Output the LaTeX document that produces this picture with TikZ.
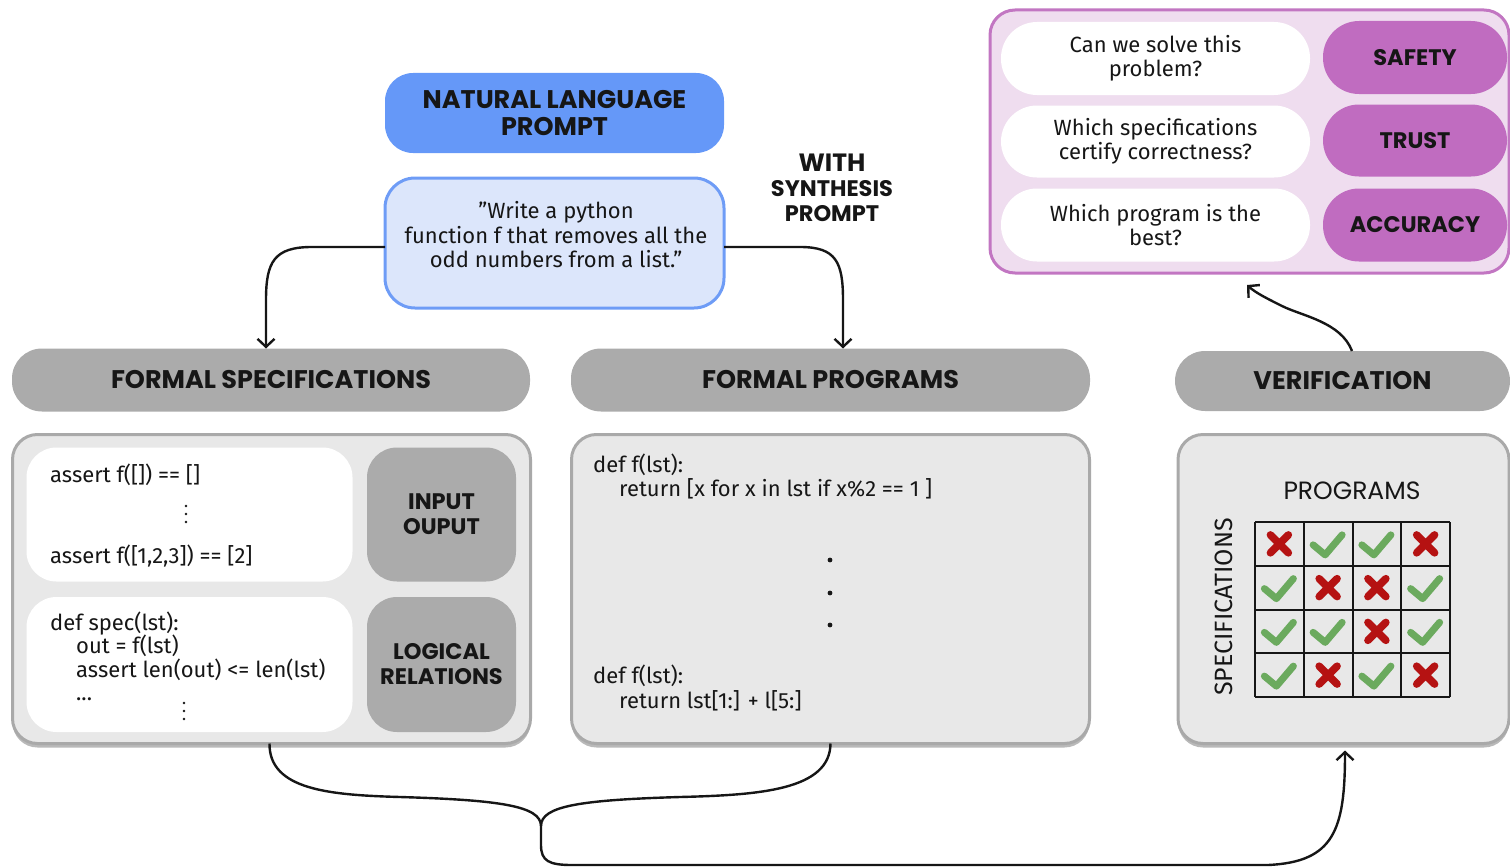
\documentclass[tikz,border=0pt]{standalone}
\usepackage{fontspec}
\setmainfont{Fira Sans}
\newfontfamily\capsfam{Poppins}
\usetikzlibrary{arrows.meta,shadows}

\definecolor{inkc}{HTML}{161616}
\definecolor{hdrgray}{HTML}{ABABAB}
\definecolor{panelgray}{HTML}{E8E8E8}
\definecolor{panelline}{HTML}{A9A9A9}
\definecolor{shadowgray}{HTML}{B9B9B9}
\definecolor{nlblue}{HTML}{6598F8}
\definecolor{promptfill}{HTML}{DCE6FB}
\definecolor{promptline}{HTML}{6E9CF6}
\definecolor{qfill}{HTML}{EFDDEF}
\definecolor{qline}{HTML}{C276C2}
\definecolor{qpill}{HTML}{C06CC0}
\definecolor{okgreen}{HTML}{6BAA5E}
\definecolor{badred}{HTML}{B51212}

\newcommand{\bodyfont}{\fontsize{22}{24.5}\selectfont}
\newcommand{\labelfont}{\capsfam\bfseries\fontsize{22.5}{25}\selectfont}
\newcommand{\headfont}{\capsfam\bfseries\fontsize{25.5}{27}\selectfont}

\tikzset{
  base/.style={rectangle, inner sep=0pt, outer sep=0pt, text=inkc},
  headbox/.style={base, fill=hdrgray, rounded corners=30pt, font=\headfont},
  panelbox/.style={base, fill=panelgray, draw=panelline, line width=3pt, rounded corners=25pt,
    drop shadow={shadow xshift=0pt, shadow yshift=-4pt, fill=shadowgray, opacity=1}},
  whitebox/.style={base, fill=white, rounded corners=30pt},
  graybox/.style={base, fill=hdrgray, rounded corners=30pt, font=\labelfont, align=center},
  qrow/.style={base, fill=white, rounded corners=36pt, font=\bodyfont, align=center,
    minimum width=309pt},
  qtag/.style={base, fill=qpill, rounded corners=36pt, font=\labelfont, minimum width=184pt},
  code/.style={inner sep=0pt, anchor=base west, font=\bodyfont, text=inkc},
  arr/.style={line width=2.4pt, draw=inkc, -{Straight Barb[length=8pt,width=17pt,line width=2.4pt]}},
  brace/.style={line width=2.4pt, draw=inkc},
  okline/.style={line width=7pt, draw=okgreen, line cap=round, line join=round},
  badline/.style={line width=7.5pt, draw=badred, line cap=round},
}

% check mark and cross centred on a cell
\newcommand{\okmark}[2]{\draw[okline] ({#1-15},{#2+1}) -- ({#1-3},{#2+11}) -- ({#1+14},{#2-9});}
\newcommand{\badmark}[2]{\draw[badline] ({#1-9},{#2-9}) -- ({#1+9},{#2+9}) ({#1-9},{#2+9}) -- ({#1+9},{#2-9});}

\begin{document}
\begin{tikzpicture}[x=1pt,y=-1pt]
\useasboundingbox (0,0) rectangle (1510,867);

% ---------- prompt ----------
\node[base, fill=nlblue, rounded corners=28pt, minimum width=339pt, minimum height=80pt,
      font=\headfont, align=center] (nlhead) at (554.5,113) {NATURAL LANGUAGE\\PROMPT};
\node[base, fill=promptfill, draw=promptline, line width=3pt, rounded corners=30pt,
      minimum width=339pt, minimum height=130pt] (prompt) at (554.5,243) {};
\node[inner sep=0pt, font=\bodyfont, align=center, text=inkc] (prompttext) at (556,235)
  {”Write a python\\function f that removes all the\\odd numbers from a list.”};
\node[inner sep=0pt, font=\labelfont, align=center, text=inkc] (withsyn) at (832,188)
  {\fontsize{25}{27.5}\selectfont WITH\\SYNTHESIS\\PROMPT};

% ---------- headers ----------
\node[headbox, minimum width=518pt, minimum height=63pt] (spechead) at (271,380) {FORMAL SPECIFICATIONS};
\node[headbox, minimum width=519pt, minimum height=63pt] (proghead) at (830.5,380) {FORMAL PROGRAMS};
\node[headbox, minimum width=335pt, minimum height=60pt] (verhead) at (1342.5,381) {VERIFICATION};

% ---------- panels ----------
\node[panelbox, minimum width=518pt, minimum height=309pt] (specpanel) at (271.5,589) {};
\node[panelbox, minimum width=518pt, minimum height=309pt] (progpanel) at (830.5,589) {};
\node[panelbox, minimum width=331pt, minimum height=309pt] (verpanel) at (1343.5,589) {};

% specifications panel content
\node[whitebox, minimum width=326pt, minimum height=134pt] (iobox) at (189.5,514.5) {};
\node[graybox, minimum width=149pt, minimum height=134pt] (iohead) at (441.5,514.5) {INPUT\\OUPUT};
\node[whitebox, minimum width=326pt, minimum height=135pt] (logbox) at (189.5,664.5) {};
\node[graybox, minimum width=149pt, minimum height=135pt] (loghead) at (441.5,664.5) {LOGICAL\\RELATIONS};

\node[code] (io1) at (50,482) {assert f([]) == []};
\node[code] (io2) at (50,563) {assert f([1,2,3]) == [2]};
\foreach \yy in {506,514,522} {\fill[inkc] (186,\yy) circle (1.4pt);}
\node[code] (lr1) at (50,630) {def spec(lst):};
\node[code] (lr2) at (76,653) {out = f(lst)};
\node[code] (lr3) at (76,677) {assert len(out) <= len(lst)};
\node[code] (lr4) at (76,700) {...};
\foreach \yy in {703,711,719} {\fill[inkc] (184,\yy) circle (1.4pt);}

% programs panel content
\node[code] (pg1) at (593,472) {def f(lst):};
\node[code] (pg2) at (619,496) {return [x for x in lst if x\%2 == 1 ]};
\foreach \yy in {560,593,625} {\fill[inkc] (830,\yy) circle (2.4pt);}
\node[code] (pg3) at (593,683) {def f(lst):};
\node[code] (pg4) at (619,708) {return lst[1:] + l[5:]};

% verification panel content
\node[inner sep=0pt, font=\capsfam\fontsize{25}{28}\selectfont, text=inkc] (progcap) at (1352,491) {PROGRAMS};
\node[inner sep=0pt, font=\fontsize{25}{28}\selectfont, text=inkc, rotate=90] (speccap) at (1224,607) {SPECIFICATIONS};
\fill[panelgray] (1255,522) rectangle (1450,697);
\foreach \i in {0,...,4} {
  \draw[line width=2pt, inkc] (1255+48.75*\i,522) -- (1255+48.75*\i,697);
  \draw[line width=2pt, inkc] (1255,522+43.75*\i) -- (1450,522+43.75*\i);
}
\foreach \c/\r in {1/0,2/0,0/1,3/1,0/2,1/2,3/2,0/3,2/3} {
  \pgfmathsetmacro\cx{1255+48.75*(\c+0.5)}
  \pgfmathsetmacro\cy{522+43.75*(\r+0.5)}
  \okmark{\cx}{\cy}
}
\foreach \c/\r in {0/0,3/0,1/1,2/1,2/2,1/3,3/3} {
  \pgfmathsetmacro\cx{1255+48.75*(\c+0.5)}
  \pgfmathsetmacro\cy{522+43.75*(\r+0.5)}
  \badmark{\cx}{\cy}
}

% ---------- questions ----------
\node[base, fill=qfill, draw=qline, line width=3pt, rounded corners=25pt,
      minimum width=519pt, minimum height=263pt] (qpanel) at (1249.5,141.5) {};
\node[qrow, minimum height=73pt] (q1) at (1155.5,58.5) {Can we solve this\\problem?};
\node[qrow, minimum height=72pt] (q2) at (1155.5,141.5) {Which specifications\\certify correctness?};
\node[qrow, minimum height=73pt] (q3) at (1155.5,225) {Which program is the\\best?};
\node[qtag, minimum height=73pt] (t1) at (1415,57.5) {SAFETY};
\node[qtag, minimum height=72pt] (t2) at (1415,140.5) {TRUST};
\node[qtag, minimum height=73pt] (t3) at (1415,225) {ACCURACY};

% ---------- connectors ----------
\draw[arr] ([yshift=-4pt]prompt.west) -- (312,247) .. controls (274,247) and (266,262) .. (266,300)
  -- ([xshift=-5pt]spechead.north);
\draw[arr] ([yshift=-4pt]prompt.east) -- (800,247) .. controls (836,247) and (843,262) .. (843,300)
  -- ([xshift=12.5pt]proghead.north);
\draw[arr] ([xshift=9.5pt]verhead.north) .. controls (1341,322) and (1302,316) .. (1282,306)
  .. controls (1266,298) and (1256,293) .. ([xshift=-2.5pt,yshift=-12pt]qpanel.south);

\coordinate (join) at (541,826);
\draw[brace] ([xshift=-2pt]specpanel.south) .. controls (269,790) and (330,795) .. (400,797)
  .. controls (500,800) and (541,806) .. (join);
\draw[brace] (progpanel.south) .. controls (830,790) and (760,795) .. (680,797)
  .. controls (580,800) and (541,806) .. (join);
\draw[arr] (join) -- (541,845) .. controls (541,861) and (549,865) .. (572,865) -- (1268,865)
  .. controls (1334,862) and (1345,830) .. ([xshift=1.5pt,yshift=-7pt]verpanel.south);

\end{tikzpicture}
\end{document}
